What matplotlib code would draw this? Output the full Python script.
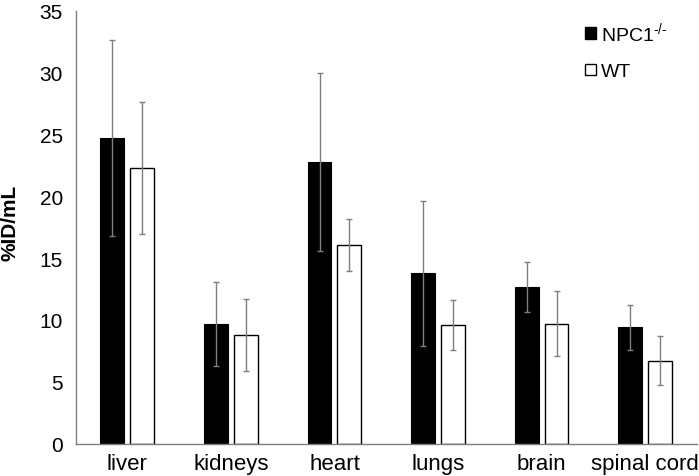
import matplotlib
matplotlib.use("Agg")
import matplotlib.pyplot as plt
import matplotlib.patches as mpatches
import numpy as np

plt.rcParams['font.family'] = ['Liberation Sans', 'DejaVu Sans']
plt.rcParams['mathtext.fontset'] = 'custom'
plt.rcParams['mathtext.rm'] = 'Liberation Sans'
plt.rcParams['mathtext.it'] = 'Liberation Sans'

# data
organs = ['liver', 'kidneys', 'heart', 'lungs', 'brain', 'spinal cord']
npc1_mean = [24.7, 9.65, 22.8, 13.75, 12.65, 9.4]
npc1_err = [7.9, 3.4, 7.2, 5.85, 2.0, 1.8]
wt_mean = [22.3, 8.8, 16.05, 9.6, 9.7, 6.7]
wt_err = [5.35, 2.9, 2.1, 2.0, 2.6, 2.0]

W, H = 699, 477
fig = plt.figure(figsize=(W / 100, H / 100), dpi=100)
ax = fig.add_axes([75.5 / W, (H - 444.5) / H, (697 - 75.5) / W, (444.5 - 11.7) / H])

x = np.arange(len(organs))
bw = 0.23
off = 0.144
errstyle = dict(ecolor='#7f7f7f', elinewidth=1.0, capsize=2.0, capthick=1.0)

ax.bar(x - off, npc1_mean, bw, color='black', edgecolor='black', linewidth=0.8,
       yerr=npc1_err, error_kw=errstyle)
ax.bar(x + off, wt_mean, bw, color='white', edgecolor='black', linewidth=1.0,
       yerr=wt_err, error_kw=errstyle)

ax.set_xlim(-0.5, len(organs) - 0.5)
ax.set_ylim(0, 35)
ax.set_yticks(np.arange(0, 36, 5))
ax.set_xticks(x)
ax.set_xticklabels(organs, fontsize=16)
ax.tick_params(axis='both', length=0)
ax.tick_params(axis='y', pad=9, labelsize=15)
ax.tick_params(axis='x', pad=7)

for s in ['top', 'right']:
    ax.spines[s].set_visible(False)
ax.spines['left'].set_color('#7f7f7f')
ax.spines['bottom'].set_color('#7f7f7f')
ax.spines['left'].set_linewidth(1.0)
ax.spines['bottom'].set_linewidth(1.0)

fig.text(10.5 / W, (H - 223) / H, '%ID/mL', fontsize=15, fontweight='bold',
         rotation=90, ha='center', va='center')

handles = [mpatches.Patch(facecolor='black', edgecolor='black'),
           mpatches.Patch(facecolor='white', edgecolor='black')]
fig.legend(handles, [r'NPC1$^{\text{-/-}}$', 'WT'], loc='upper left',
           bbox_to_anchor=(585 / W, (H - 21) / H), frameon=False,
           fontsize=14, handlelength=0.55, handleheight=0.55,
           handletextpad=0.25, labelspacing=1.0, borderpad=0, borderaxespad=0)

fig.savefig('out.png', dpi=100)
